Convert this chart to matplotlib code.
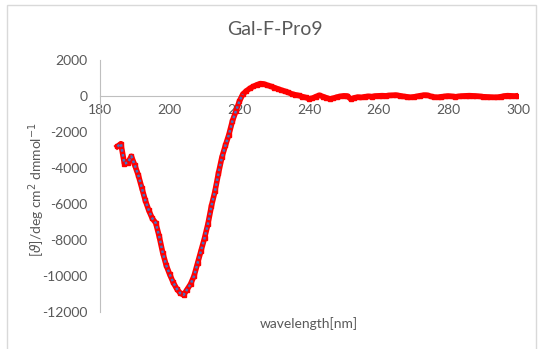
import matplotlib.pyplot as plt
from matplotlib.patches import Rectangle

# CD spectrum (1 nm steps)
wavelength = [185, 186, 187, 188, 189, 190, 191, 192, 193, 194,
              195, 196, 197, 198, 199, 200, 201, 202, 203, 204,
              205, 206, 207, 208, 209, 210, 211, 212, 213, 214,
              215, 216, 217, 218, 219, 220, 221, 222, 223, 224,
              225, 226, 227, 228, 229, 230, 231, 232, 233, 234,
              235, 236, 237, 238, 239, 240, 241, 242, 243, 244,
              245, 246, 247, 248, 249, 250, 251, 252, 253, 254,
              255, 256, 257, 258, 259, 260, 261, 262, 263, 264,
              265, 266, 267, 268, 269, 270, 271, 272, 273, 274,
              275, 276, 277, 278, 279, 280, 281, 282, 283, 284,
              285, 286, 287, 288, 289, 290, 291, 292, 293, 294,
              295, 296, 297, 298, 299, 300]
ellipticity = [-2800, -2650, -3750, -3700, -3350, -3850, -4400, -5100, -5800, -6350,
               -6800, -7050, -7800, -8700, -9400, -9900, -10350, -10700, -10950, -11050,
               -10750, -10450, -10000, -9300, -8600, -7900, -7100, -6100, -5300, -4300,
               -3400, -2750, -2150, -1400, -850, -300, 100, 280, 420, 530,
               620, 690, 670, 600, 540, 470, 400, 330, 270, 200,
               120, 70, 30, -30, -80, -150, -120, -30, 40, -30,
               -100, -160, -120, -60, -20, 10, 0, -170, -100, -60,
               -80, -40, -20, -30, 0, 10, 20, 10, 30, 40,
               50, 20, -20, -40, -70, -50, -20, 20, 50, 40,
               -20, -60, -70, -40, -20, 0, -20, -40, -20, 0,
               10, 20, 10, 0, -20, -40, -50, -60, -70, -70,
               -40, 0, 20, 10, 0, 20]
n_blue = 37  # blue series covers 185-221 nm

xticks = [180, 200, 220, 240, 260, 280, 300]
yticks = [-12000, -10000, -8000, -6000, -4000, -2000, 0, 2000]

plt.rcParams['font.family'] = ['Lato', 'DejaVu Sans']
plt.rcParams['axes.unicode_minus'] = False
grey = '#595959'

fig = plt.figure(figsize=(5.39, 3.49), dpi=100)
fig.patches.append(Rectangle((7 / 539, -0.01), 529 / 539, 1 - 5 / 349 + 0.01,
                             transform=fig.transFigure, fill=False,
                             edgecolor='#d9d9d9', lw=1))
ax = fig.add_axes([100 / 539, 1 - 312 / 349, 418 / 539, 252 / 349])

ax.plot(wavelength, ellipticity, color='red', lw=4, marker='s', ms=3.5,
        mec='red', mfc='red', zorder=3)
ax.plot(wavelength[:n_blue], ellipticity[:n_blue], color='#4472C4', lw=1.8,
        ls=(0, (1, 1)), zorder=4)

ax.set_xlim(180, 300)
ax.set_ylim(-12000, 2000)
ax.set_xticks(xticks)
ax.set_yticks(yticks)
ax.spines['top'].set_visible(False)
ax.spines['right'].set_visible(False)
ax.spines['bottom'].set_position(('data', 0))
ax.spines['bottom'].set_color('#bfbfbf')
ax.spines['left'].set_color('#bfbfbf')
ax.tick_params(length=0, colors=grey, labelsize=10)
ax.tick_params(axis='x', pad=6)
ax.tick_params(axis='y', pad=9)

fig.text(275 / 539, 1 - 35 / 349, 'Gal-F-Pro9', color=grey, fontsize=14,
         ha='center', va='baseline')
fig.text(309 / 539, 1 - 324 / 349, 'wavelength[nm]', color=grey, fontsize=10,
         ha='center', va='center')
fig.text(37 / 539, 1 - 190 / 349, r'[$\vartheta$]/deg cm$^2$ dmmol$^{-1}$',
         color=grey, fontsize=10, rotation=90, ha='center', va='center')

fig.savefig('out.png', dpi=100)
